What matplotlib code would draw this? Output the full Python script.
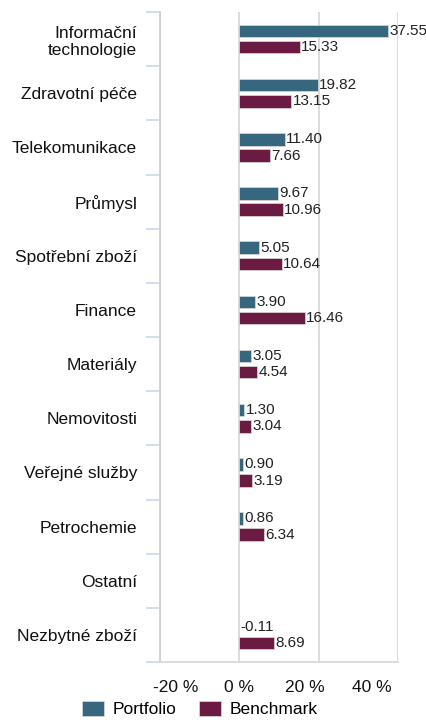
import matplotlib
matplotlib.use("Agg")
import matplotlib.pyplot as plt
import matplotlib.transforms as mtransforms
import numpy as np

plt.rcParams['font.family'] = ['Liberation Sans', 'DejaVu Sans']

sectors = ['Informační\ntechnologie', 'Zdravotní péče', 'Telekomunikace', 'Průmysl',
           'Spotřební zboží', 'Finance', 'Materiály', 'Nemovitosti',
           'Veřejné služby', 'Petrochemie', 'Ostatní', 'Nezbytné zboží']
portfolio = [37.55, 19.82, 11.40, 9.67, 5.05, 3.90, 3.05, 1.30, 0.90, 0.86, np.nan, -0.11]
benchmark = [15.33, 13.15, 7.66, 10.96, 10.64, 16.46, 4.54, 3.04, 3.19, 6.34, np.nan, 8.69]
xtick_values = [-20, 0, 20, 40]
xtick_labels = ['-20 %', '0 %', '20 %', '40 %']

c_port = '#36677f'
c_bench = '#6b1a41'

fig = plt.figure(figsize=(4.27, 7.27), dpi=100)
ax = fig.add_axes([160 / 427, 65 / 727, 238 / 427, 650 / 727])

y = np.arange(len(sectors))
h = 0.23
off = 0.15
ax.barh(y - off, portfolio, h, color=c_port, edgecolor='#dcdcdc', linewidth=0.5, label='Portfolio', zorder=3)
ax.barh(y + off, benchmark, h, color=c_bench, edgecolor='#dcdcdc', linewidth=0.5, label='Benchmark', zorder=3)

for yi, v in zip(y - off, portfolio):
    if not np.isnan(v):
        ax.text(max(v, 0) + 0.3, yi, f'{v:.2f}', va='center', ha='left', fontsize=11, color='#222222')
for yi, v in zip(y + off, benchmark):
    if not np.isnan(v):
        ax.text(max(v, 0) + 0.3, yi, f'{v:.2f}', va='center', ha='left', fontsize=11, color='#222222')

ax.set_xlim(-20, 40)
ax.set_ylim(len(sectors) - 0.5, -0.5)

# vertical grid lines
ax.set_xticks(xtick_values)
ax.set_xticklabels([])
ax.tick_params(axis='x', length=0)
ax.grid(axis='x', color='#d9d9d9', linewidth=1.3, zorder=0)

# x labels sit slightly inward from the grid lines
label_pos = [-16, 0, 16.5, 33.5]
trans = mtransforms.blended_transform_factory(ax.transData, ax.transAxes)
for xp, lab in zip(label_pos, xtick_labels):
    ax.text(xp, -0.04, lab, transform=trans, ha='center', va='center', fontsize=12.5, color='#111111')

# category labels centred, boundary ticks between categories
ax.set_yticks(y)
ax.set_yticklabels(sectors, fontsize=12.5, color='#111111', ha='right')
ax.tick_params(axis='y', which='major', length=0, pad=16.5)
ax.set_yticks(np.arange(len(sectors) + 1) - 0.5, minor=True)
ax.tick_params(axis='y', which='minor', length=10, width=1.2, color='#c8d8ec')
for lab in ax.get_yticklabels():
    lab.set_multialignment('right')

for s in ['top', 'right']:
    ax.spines[s].set_visible(False)
ax.spines['left'].set_color('#d0d0d0')
ax.spines['left'].set_linewidth(1.3)
ax.spines['bottom'].set_color('#d9d9d9')
ax.spines['bottom'].set_linewidth(1.3)

fig.legend(loc='lower center', bbox_to_anchor=(0.468, -0.008), ncol=2, frameon=False,
           fontsize=12.5, handlelength=1.3, handleheight=0.95, handletextpad=0.5, columnspacing=1.25)

fig.savefig('out.png', dpi=100)
